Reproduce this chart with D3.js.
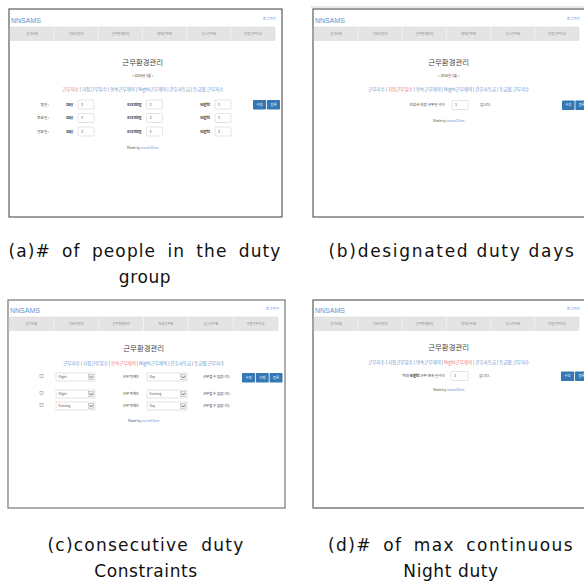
<!DOCTYPE html>
<html>
<head>
<meta charset="utf-8">
<script src="https://cdn.jsdelivr.net/npm/d3@7/dist/d3.min.js"></script>
<style>
  body { margin: 0; background: #fff; }
  svg { display: block; }
</style>
</head>
<body>
<script>
// data
var captionLines = [
  ["(a)# of people in the duty", "group"],
  ["(b)designated duty days"],
  ["(c)consecutive duty", "Constraints"],
  ["(d)# of max continuous", "Night duty"]
];
var navItems = ["공지사항", "간호사관리", "근무환경관리", "희망근무표", "임시근무표", "자동근무작성"];
var tabLinks = ["근무자수", "지정근무일수", "연속근무제약", "Night근무제약", "간호사등급", "등급별 근무자수"];
var activeTab = [0, 1, 2, 3];
var monthLabel = "< 2016년 1월 >";
var dayTypes = ["평일 :", "토요일 :", "일요일 :"];
var shiftNames = ["Day", "Evening", "Night"];
var dutyCounts = [[3, 3, 3], [3, 3, 3], [3, 3, 3]];
var designatedDays = 1;
var consecutiveRules = [["Night", "Day"], ["Night", "Evening"], ["Evening", "Day"]];
var maxNight = 3;
var buttonsTwo = ["수정", "등록"];
var buttonsThree = ["수정", "삭제", "등록"];

// layout
var W = 584, H = 581;
var panelX = [9, 313, 8, 313];
var panelY = [9, 9, 300, 300];
var panelW = [273, 273, 277, 273];
var panelH = 208;
var blue = "#6494d2", red = "#f07474", btn = "#3378b5";
var krFont = "'Noto Sans CJK KR', 'Noto Sans', sans-serif";

var svg = d3.select("body").append("svg")
  .attr("width", W).attr("height", H)
  .style("font-family", krFont);

svg.append("defs").append("clipPath").attr("id", "page")
  .append("rect").attr("x", 0).attr("y", 0).attr("width", W).attr("height", H);

// faint line above panel b
svg.append("line")
  .attr("x1", 311).attr("x2", W).attr("y1", 7).attr("y2", 7)
  .attr("stroke", "#cfcfcf").attr("stroke-width", 1);

function header(g, i, w, top) {
  g.append("text").attr("x", 2).attr("y", top + 1)
    .attr("dy", "0.35em")
    .attr("font-size", 7).attr("fill", blue)
    .attr("font-family", "'Liberation Sans', Arial, sans-serif")
    .text("NNSAMS");
  g.append("text").attr("x", w - 6).attr("y", top - 1)
    .attr("dy", "0.35em").attr("text-anchor", "end")
    .attr("font-size", 3.6).attr("fill", blue)
    .text("로그아웃");

  var navTop = top + 7, navH = 13.5;
  var nx = d3.scaleBand().domain(navItems).range([1, w - 7]);
  g.append("rect").attr("x", nx.range()[0]).attr("y", navTop)
    .attr("width", nx.range()[1] - nx.range()[0]).attr("height", navH)
    .attr("rx", 1).attr("fill", "#e4e4e4").attr("stroke", "#d6d6d6").attr("stroke-width", 0.5);
  g.selectAll(".sep").data(navItems.slice(1)).enter().append("line")
    .attr("x1", function(d) { return nx(d); }).attr("x2", function(d) { return nx(d); })
    .attr("y1", navTop).attr("y2", navTop + navH)
    .attr("stroke", "#f4f4f4").attr("stroke-width", 0.8);
  g.selectAll(".nav").data(navItems).enter().append("text")
    .attr("x", function(d) { return nx(d) + nx.bandwidth() / 2; })
    .attr("y", navTop + navH / 2).attr("dy", "0.35em")
    .attr("text-anchor", "middle").attr("font-size", 3.2).attr("fill", "#888")
    .text(function(d) { return d; });
}

function titleBlock(g, i, cx, titleY, linkY, showMonth) {
  g.append("text").attr("x", cx).attr("y", titleY).attr("dy", "0.35em")
    .attr("text-anchor", "middle").attr("font-size", 7.4).attr("fill", "#444")
    .text("근무환경관리");
  if (showMonth) {
    g.append("text").attr("x", cx).attr("y", titleY + 14).attr("dy", "0.35em")
      .attr("text-anchor", "middle").attr("font-size", 3.4).attr("fill", "#444")
      .text(monthLabel);
  }
  var t = g.append("text").attr("x", cx).attr("y", linkY).attr("dy", "0.35em")
    .attr("text-anchor", "middle").attr("font-size", 4.5);
  tabLinks.forEach(function(d, k) {
    if (k > 0) t.append("tspan").attr("fill", "#666").text(" | ");
    t.append("tspan").attr("fill", k === activeTab[i] ? red : blue).text(d);
  });
}

function footer(g, cx, y) {
  var t = g.append("text").attr("x", cx).attr("y", y).attr("dy", "0.35em")
    .attr("text-anchor", "middle").attr("font-size", 3.4);
  t.append("tspan").attr("fill", "#555").text("Made by ");
  t.append("tspan").attr("fill", blue).text("nurse10cm");
}

function buttons(g, labels, x0, y, bw) {
  var bx = d3.scaleBand().domain(labels).range([x0, x0 + labels.length * (bw + 1)]).paddingInner(0.06);
  var b = g.selectAll(".btn" + x0).data(labels).enter().append("g");
  b.append("rect").attr("x", function(d) { return bx(d); }).attr("y", y)
    .attr("width", bx.bandwidth()).attr("height", 9.5).attr("rx", 0.8).attr("fill", btn);
  b.append("text").attr("x", function(d) { return bx(d) + bx.bandwidth() / 2; })
    .attr("y", y + 4.75).attr("dy", "0.35em").attr("text-anchor", "middle")
    .attr("font-size", 3.3).attr("fill", "#fff").text(function(d) { return d; });
}

function inputBox(g, x, y, w, val) {
  g.append("rect").attr("x", x).attr("y", y - 4.5).attr("width", w).attr("height", 9)
    .attr("rx", 1).attr("fill", "#fff").attr("stroke", "#d4d4d4").attr("stroke-width", 0.6);
  g.append("text").attr("x", x + 3).attr("y", y).attr("dy", "0.35em")
    .attr("font-size", 3.6).attr("fill", "#555").text(val);
}

function selectBox(g, x, y, w, val) {
  g.append("rect").attr("x", x).attr("y", y - 4).attr("width", w).attr("height", 8)
    .attr("fill", "#fff").attr("stroke", "#cfcfcf").attr("stroke-width", 0.6);
  g.append("text").attr("x", x + 2.5).attr("y", y).attr("dy", "0.35em")
    .attr("font-size", 3.2).attr("fill", "#555").text(val);
  g.append("rect").attr("x", x + w - 6.5).attr("y", y - 2.5).attr("width", 5).attr("height", 5)
    .attr("fill", "#eee").attr("stroke", "#999").attr("stroke-width", 0.4);
  g.append("path").attr("d", "M" + (x + w - 5.4) + "," + (y - 0.8) + "l1.6,1.8l1.6,-1.8")
    .attr("fill", "none").attr("stroke", "#333").attr("stroke-width", 0.6);
}

var small = 3.6;

// panel (a): duty group sizes
function bodyA(g, w) {
  var cx = w * 0.49;
  titleBlock(g, 0, cx, 53, 80, true);
  var ry = d3.scalePoint().domain(dayTypes).range([95.5, 122.5]);
  var ix = d3.scalePoint().domain(shiftNames).range([69, 206]);
  dayTypes.forEach(function(day, r) {
    g.append("text").attr("x", 40).attr("y", ry(day)).attr("dy", "0.35em")
      .attr("text-anchor", "end").attr("font-size", small).attr("fill", "#333").text(day);
    shiftNames.forEach(function(s, c) {
      g.append("text").attr("x", ix(s) - 5).attr("y", ry(day)).attr("dy", "0.35em")
        .attr("text-anchor", "end").attr("font-size", small).attr("font-weight", "bold")
        .attr("fill", "#333").text(s);
      inputBox(g, ix(s), ry(day), 16, dutyCounts[r][c]);
    });
  });
  buttons(g, buttonsTwo, 244, 91, 12.5);
  footer(g, cx, 139);
}

// panel (b): designated duty days
function bodyB(g, w) {
  var cx = w * 0.497;
  titleBlock(g, 1, cx, 53, 80, true);
  var y = 96;
  g.append("text").attr("x", 132).attr("y", y).attr("dy", "0.35em").attr("text-anchor", "end")
    .attr("font-size", small).attr("fill", "#333").text("간호사 지정 근무일 수는");
  inputBox(g, 139, y, 16, designatedDays);
  g.append("text").attr("x", 167).attr("y", y).attr("dy", "0.35em")
    .attr("font-size", small).attr("fill", "#333").text("입니다.");
  buttons(g, buttonsTwo, 249, 91.5, 12);
  footer(g, cx, 112);
}

// panel (c): consecutive duty constraints
function bodyC(g, w) {
  var cx = w * 0.49;
  titleBlock(g, 2, cx, 48, 63, false);
  var ry = d3.scaleOrdinal().domain([0, 1, 2]).range([77, 94, 106]);
  consecutiveRules.forEach(function(rule, r) {
    var y = ry(r);
    g.append("rect").attr("x", 32).attr("y", y - 2.5).attr("width", 3).attr("height", 3)
      .attr("fill", "#fff").attr("stroke", "#888").attr("stroke-width", 0.5);
    selectBox(g, 48, y, 39, rule[0]);
    g.append("text").attr("x", 123).attr("y", y).attr("dy", "0.35em").attr("text-anchor", "middle")
      .attr("font-size", 3.4).attr("fill", "#333").text("근무 뒤에는");
    selectBox(g, 139, y, 40, rule[1]);
    g.append("text").attr("x", 195).attr("y", y).attr("dy", "0.35em")
      .attr("font-size", 3.4).attr("fill", "#333").text("근무할 수 없습니다.");
  });
  buttons(g, buttonsThree, 234, 73, 12.5);
  footer(g, cx, 121);
}

// panel (d): max continuous night duty
function bodyD(g, w) {
  var cx = w * 0.497;
  titleBlock(g, 3, cx, 47, 62, false);
  var y = 76;
  var t = g.append("text").attr("x", 132).attr("y", y).attr("dy", "0.35em").attr("text-anchor", "end")
    .attr("font-size", small).attr("fill", "#333");
  t.append("tspan").text("최대 ");
  t.append("tspan").attr("font-weight", "bold").text("Night");
  t.append("tspan").text(" 근무 연속 일수는");
  inputBox(g, 138, y, 17, maxNight);
  g.append("text").attr("x", 166).attr("y", y).attr("dy", "0.35em")
    .attr("font-size", small).attr("fill", "#333").text("입니다.");
  buttons(g, buttonsTwo, 248, 71.5, 12.5);
  footer(g, cx, 90);
}

var bodies = [bodyA, bodyB, bodyC, bodyD];
var headerTop = [11, 11, 10, 10];

var root = svg.append("g").attr("clip-path", "url(#page)");
bodies.forEach(function(fn, i) {
  var g = root.append("g").attr("transform", "translate(" + panelX[i] + "," + panelY[i] + ")");
  var w = panelW[i];
  g.append("rect").attr("x", 0).attr("y", 0).attr("width", w).attr("height", panelH)
    .attr("fill", "#fff").attr("stroke", i === 2 ? "#8a8a8a" : "#4d4d4d")
    .attr("stroke-width", i === 2 ? 1.4 : 1.1);
  if (i === 3) {
    g.append("line").attr("x1", 0).attr("x2", w).attr("y1", panelH).attr("y2", panelH)
      .attr("stroke", "#9a9a9a").attr("stroke-width", 2);
  }
  header(g, i, w, headerTop[i]);
  fn(g, w);
});

// captions: first lines are spread to the column width, like the justified originals
var capCenter = [145, 452, 146, 451];
var capTop = [251, 251, 545, 545];
var capWidth = [273, 247, 197, 246];
var letterShare = [0.55, 1, 0.8, 0.7];
var lineGap = 26;

captionLines.forEach(function(lines, i) {
  lines.forEach(function(line, k) {
    var t = svg.append("text")
      .attr("x", capCenter[i]).attr("y", capTop[i] + k * lineGap)
      .attr("dy", "0.35em").attr("text-anchor", "middle")
      .attr("font-size", 17).attr("fill", "#111")
      .attr("font-family", "'DejaVu Sans', sans-serif")
      .attr("letter-spacing", k === 0 ? 0 : 0.6)
      .text(line);
    if (k === 0) {
      var natural = t.node().getComputedTextLength();
      var extra = capWidth[i] - natural;
      var gaps = line.split(" ").length - 1;
      if (extra <= 0 || gaps === 0) {
        t.attr("textLength", capWidth[i]).attr("lengthAdjust", "spacing");
      } else {
        t.attr("letter-spacing", extra * letterShare[i] / line.length);
        var now = t.node().getComputedTextLength();
        t.attr("word-spacing", Math.max(0, (capWidth[i] - now) / gaps));
      }
    }
  });
});
</script>
</body>
</html>
